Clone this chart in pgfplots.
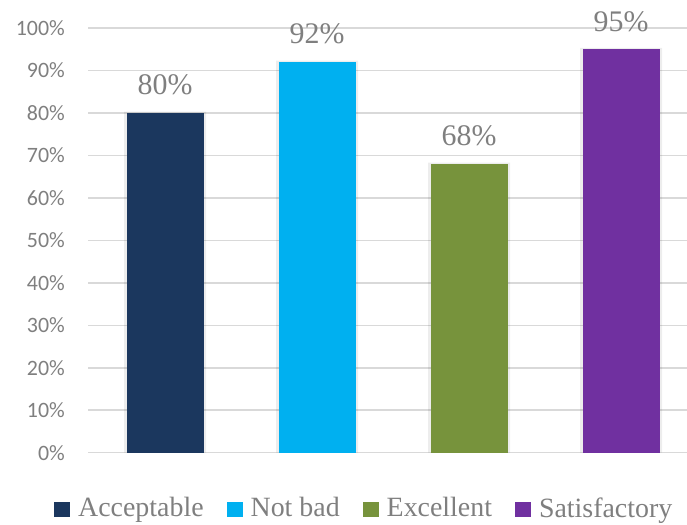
\documentclass[border=0pt]{standalone}
\usepackage{fontspec}
\setmainfont{Liberation Serif}
\newfontfamily\calibri{Carlito}
\usepackage{pgfplots}
\pgfplotsset{compat=1.18}

\definecolor{navybar}{HTML}{1B375E}
\definecolor{skybar}{HTML}{00B0F0}
\definecolor{greenbar}{HTML}{77933C}
\definecolor{purplebar}{HTML}{7030A0}
\definecolor{gridgray}{HTML}{D9D9D9}
\definecolor{textgray}{HTML}{7F7F7F}

\pgfplotsset{
  squarelegend/.style={
    legend image code/.code={\fill[##1] (0bp,-8.7bp) rectangle (16bp,6.3bp);}
  },
  valuebar/.style={
    fill=#1, draw=none, squarelegend,
    nodes near coords={\pgfmathprintnumber{\pgfplotspointmeta}\%},
    nodes near coords style={font=\fontsize{30}{30}\selectfont, text=textgray, anchor=base, inner sep=0pt, yshift=18bp},
  },
}

\begin{document}
\begin{tikzpicture}
\useasboundingbox (0,0) rectangle (687bp,525bp);
\begin{axis}[
  at={(88bp,72.3bp)}, anchor=south west,
  scale only axis,
  width=599bp, height=424.7bp,
  xmin=-0.507, xmax=3.434,
  ymin=0, ymax=100,
  ybar, bar width=77bp, bar shift=0pt,
  axis line style={draw=none},
  major tick length=0pt,
  xtick=\empty,
  ytick={0,10,...,100},
  yticklabels={0\%,10\%,20\%,30\%,40\%,50\%,60\%,70\%,80\%,90\%,100\%},
  yticklabel style={font=\calibri\fontsize{22}{22}\selectfont, text=textgray, inner sep=0pt, anchor=east, xshift=-23bp},
  ymajorgrids,
  grid style={draw=gridgray, line width=1.5bp},
  clip=false,
  /pgf/number format/assume math mode=true,
  legend columns=4,
  legend style={
    at={(-0.0568,-0.1303)}, anchor=west,
    draw=none, fill=none, inner sep=0pt,
    font=\fontsize{28}{28}\selectfont, text=textgray,
    nodes={inner sep=0pt},
    /tikz/every odd column/.append style={column sep=8bp},
    /tikz/every even column/.append style={column sep=23bp},
  },
]
% faint shadow behind the bars
\addplot[forget plot, fill=black, fill opacity=0.07, draw=none, bar width=82bp]
  coordinates {(0,80.3) (1,92.3) (2,68.3) (3,95.3)};
\addplot[valuebar=navybar] coordinates {(0,80)};
\addlegendentry{Acceptable}
\addplot[valuebar=skybar] coordinates {(1,92)};
\addlegendentry{Not bad}
\addplot[valuebar=greenbar] coordinates {(2,68)};
\addlegendentry{Excellent}
\addplot[valuebar=purplebar] coordinates {(3,95)};
\addlegendentry{Satisfactory}
\end{axis}
\end{tikzpicture}
\end{document}
